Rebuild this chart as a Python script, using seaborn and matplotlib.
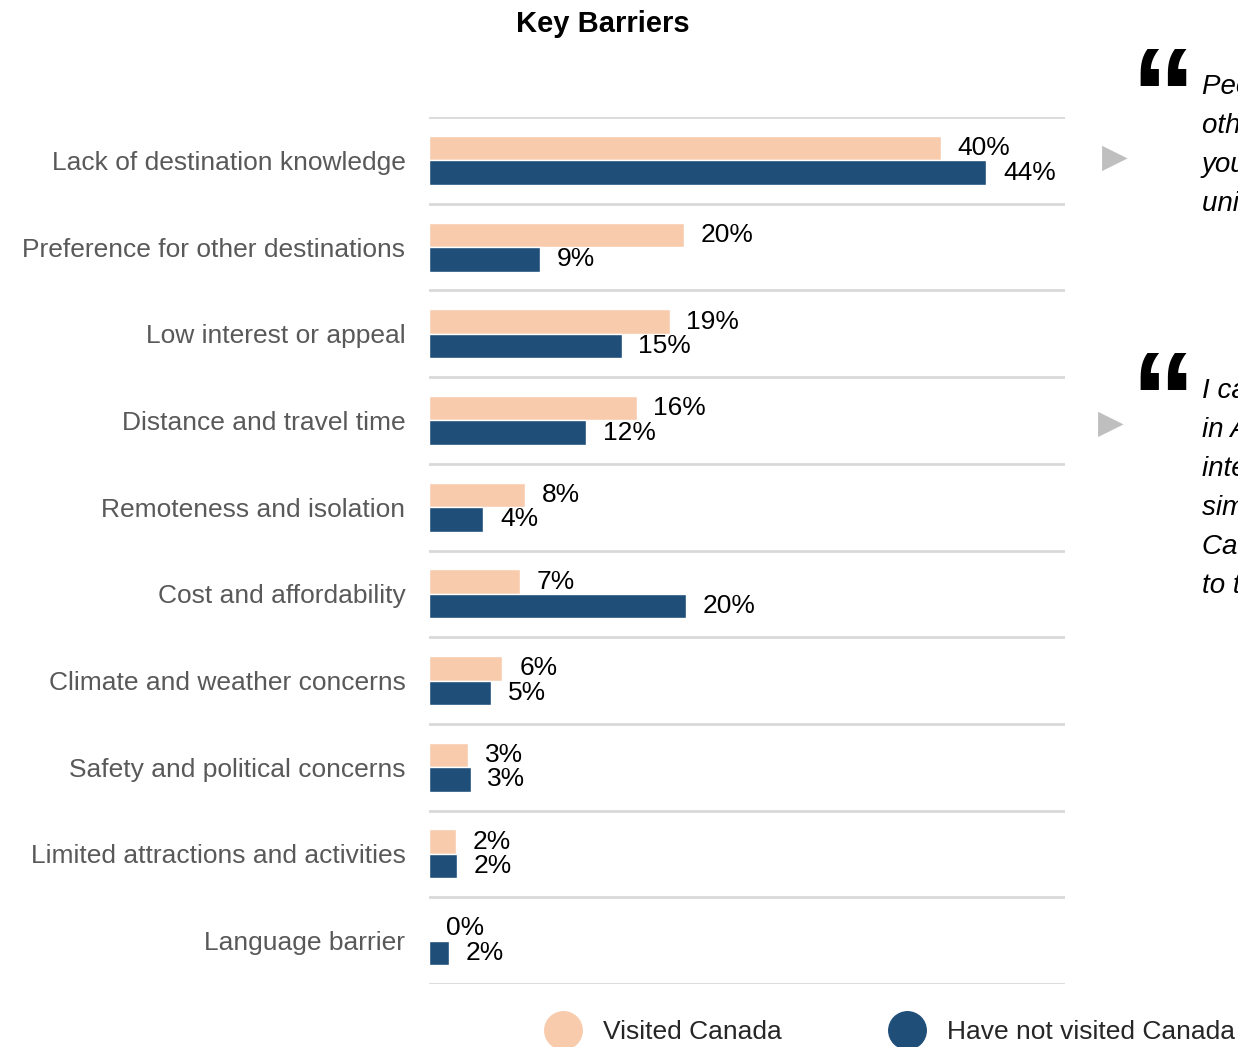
import numpy as np
import pandas as pd
import matplotlib
matplotlib.use("Agg")
import matplotlib.pyplot as plt
import seaborn as sns
from matplotlib.lines import Line2D

# data
barriers = [
    "Lack of destination knowledge",
    "Preference for other destinations",
    "Low interest or appeal",
    "Distance and travel time",
    "Remoteness and isolation",
    "Cost and affordability",
    "Climate and weather concerns",
    "Safety and political concerns",
    "Limited attractions and activities",
    "Language barrier",
]
visited = [40.4, 20.1, 19.0, 16.4, 7.6, 7.2, 5.8, 3.1, 2.1, 0.0]
not_visited = [44.0, 8.8, 15.2, 12.4, 4.3, 20.3, 4.9, 3.3, 2.2, 1.6]
groups = ["Visited Canada", "Have not visited Canada"]

quote_1 = "People talk about\nother places, but\nyou never hear about\nunique spots there."
quote_2 = "I can find nature\nin Asia that is as\ninteresting and\nsimilar, and\nCanada is too far\nto travel to."

df = pd.DataFrame({
    "barrier": barriers * 2,
    "pct": visited + not_visited,
    "group": [groups[0]] * len(barriers) + [groups[1]] * len(barriers),
})

peach = "#F8CBAD"
navy = "#1F4E79"

sns.set_style("white")
plt.rcParams["font.family"] = ["Liberation Sans", "DejaVu Sans"]

fig = plt.figure(figsize=(12.38, 10.47), dpi=100)
ax = fig.add_axes([429 / 1238, 1 - 984 / 1047, 636 / 1238, 867 / 1047])

sns.barplot(data=df, y="barrier", x="pct", hue="group", orient="h",
            palette=[peach, navy], width=0.565, gap=0, ax=ax, legend=False,
            saturation=1)

for cont in ax.containers:
    labels = [f"{round(b.get_width())}%" for b in cont]
    ax.bar_label(cont, labels=labels, padding=12, fontsize=19, color="black")

ax.set_xlim(0, 50.2)
ax.set_ylim(len(barriers) - 0.5, -0.5)
ax.set_xlabel("")
ax.set_ylabel("")
ax.set_xticks([])
ax.set_yticks(ax.get_yticks(), labels=barriers, fontsize=19, color="#595959")
ax.set_yticks(np.arange(-0.5, len(barriers)), minor=True)
ax.tick_params(axis="y", which="both", length=0, pad=17)
ax.grid(True, axis="y", which="minor", color="#D9D9D9", linewidth=2)
ax.grid(False, axis="y", which="major")
for s in ax.spines.values():
    s.set_visible(False)

fig.text(603 / 1238, 1 - 24 / 1047, "Key Barriers", ha="center", va="center",
         fontsize=21, fontweight="bold", color="black")

# legend
handles = [Line2D([], [], marker="o", linestyle="none", markersize=27,
                  markerfacecolor=c, markeredgecolor=c) for c in (peach, navy)]
for h, g, x0 in zip(handles, groups, (548, 892)):
    leg = fig.legend([h], [g], loc="center left",
                     bbox_to_anchor=(x0 / 1238, 1 - 1032 / 1047),
                     frameon=False, fontsize=19, borderpad=0, borderaxespad=0,
                     handlelength=1.1, handletextpad=1.0)

# quotes on the right
for xtri, ytri, yq, ytxt, txt in ((1115, 157, 104, 74, quote_1),
                                  (1111, 423, 407, 378, quote_2)):
    fig.text(xtri / 1238, 1 - ytri / 1047, "\u25B6", ha="center", va="center",
             fontsize=24, color="#BFBFBF", family="DejaVu Sans")
    fig.text(1130 / 1238, 1 - (yq + 2) / 1047, "\u201C", ha="left", va="center",
             fontsize=94, fontweight="bold", color="black")
    fig.text(1202 / 1238, 1 - ytxt / 1047, txt, ha="left", va="top",
             fontsize=20, style="italic", linespacing=1.65, color="black")

fig.savefig("out.png", dpi=100)
